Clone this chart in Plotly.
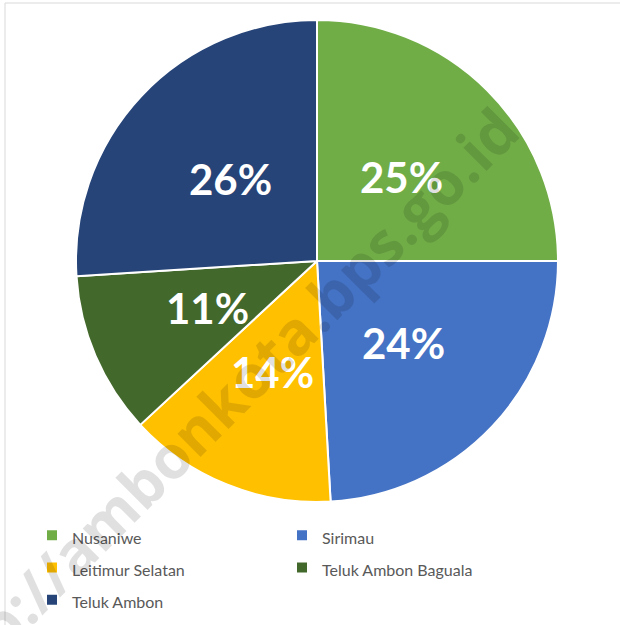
import math
import plotly.graph_objects as go

categories = ["Nusaniwe", "Sirimau", "Leitimur Selatan", "Teluk Ambon Baguala", "Teluk Ambon"]
values = [25.0, 24.1, 14.0, 10.9, 26.0]
colors = ["#70AD47", "#4472C4", "#FFC000", "#43682B", "#264478"]
watermark = "http://ambonkota.bps.go.id"

W, H = 620, 625
# pie geometry (paper domain)
dom_x = [76 / W, 558 / W]
dom_y = [1 - 502 / H, 1 - 20 / H]
legend_labels = [f"<span style='font-size:16px'>{c}</span>" for c in categories]

fig = go.Figure(go.Pie(
    labels=legend_labels,
    values=values,
    sort=False,
    direction="clockwise",
    rotation=0,
    marker=dict(colors=colors, line=dict(color="white", width=2)),
    textinfo="none",
    domain=dict(x=dom_x, y=dom_y),
    hoverinfo="skip",
))

# percentage labels placed at half radius along each slice's mid-angle
total = sum(values)
cx = (dom_x[0] + dom_x[1]) / 2 * W
cy = (1 - (dom_y[0] + dom_y[1]) / 2) * H
R = (dom_x[1] - dom_x[0]) * W / 2
annotations = []
cum = 0.0
for v in values:
    theta = 2 * math.pi * (cum + v / 2) / total
    cum += v
    px = cx + 0.495 * R * math.sin(theta)
    py = cy - 0.495 * R * math.cos(theta)
    annotations.append(dict(
        text=f"{round(100 * v / total)}%", xref="paper", yref="paper",
        x=px / W, y=1 - py / H, xanchor="center", yanchor="middle", showarrow=False,
        font=dict(family="Lato", size=42, color="white", weight="bold")))

annotations.append(dict(
    text=watermark, xref="paper", yref="paper",
    x=214 / W, y=1 - 411 / H, xanchor="center", yanchor="middle",
    showarrow=False, textangle=-45,
    font=dict(family="Open Sans", size=60, color="rgba(0,0,0,0.12)", weight="bold")))

fig.update_layout(
    width=W, height=H,
    margin=dict(l=0, r=0, t=0, b=0, autoexpand=False),
    paper_bgcolor="white",
    plot_bgcolor="white",
    showlegend=True,
    legend=dict(
        orientation="h",
        x=32 / W, xanchor="left",
        y=1 - 514 / H, yanchor="top",
        entrywidth=205,
        font=dict(family="Lato", size=22.5, color="#595959"),
        bgcolor="rgba(0,0,0,0)",
    ),
    shapes=[dict(type="rect", xref="paper", yref="paper",
                 x0=5 / W, x1=1.05, y0=-0.05, y1=1 - 3 / H,
                 line=dict(color="#D9D9D9", width=1), fillcolor="rgba(0,0,0,0)",
                 layer="below")],
    annotations=annotations,
)

fig.write_html(
    "out.html",
    config={"displayModeBar": False},
    post_script="document.body.style.margin='0';document.body.style.overflow='hidden';",
)
